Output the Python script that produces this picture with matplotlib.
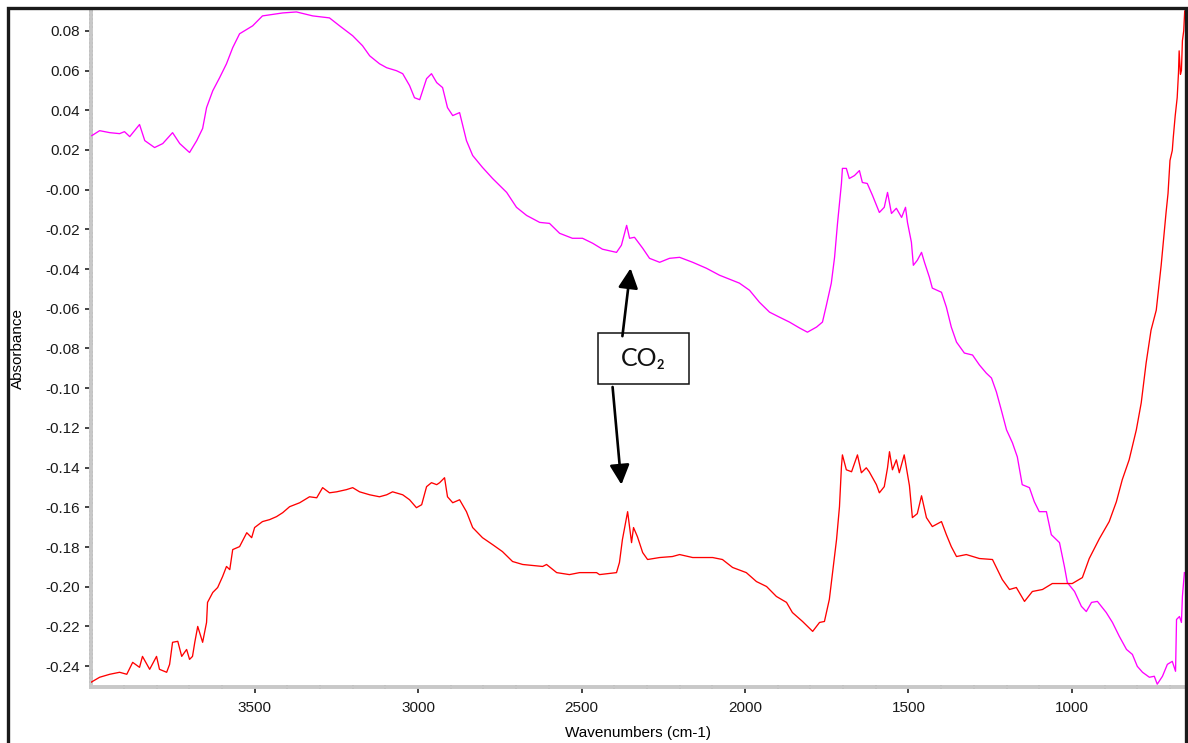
import matplotlib
matplotlib.use("Agg")
import matplotlib.pyplot as plt
from matplotlib.patches import Rectangle
from matplotlib.ticker import MultipleLocator, FixedLocator, FixedFormatter

# ---------------- data ----------------
magenta_wn = [3998, 3974, 3943, 3913, 3898, 3882, 3852, 3836, 3806, 3781, 3751, 3729, 3699, 3677,
              3659, 3647, 3628, 3607, 3586, 3567, 3546, 3506, 3476, 3414, 3372, 3322, 3271, 3240,
              3200, 3170, 3148, 3118, 3096, 3066, 3047, 3026, 3011, 2995, 2974, 2959, 2943, 2925,
              2910, 2894, 2873, 2852, 2833, 2803, 2772, 2729, 2699, 2668, 2628, 2598, 2567, 2528,
              2497, 2466, 2436, 2393, 2378, 2362, 2353, 2338, 2313, 2292, 2261, 2231, 2200, 2160,
              2118, 2078, 2017, 1986, 1956, 1925, 1895, 1864, 1833, 1809, 1781, 1763, 1751, 1736,
              1726, 1717, 1705, 1702, 1690, 1681, 1665, 1650, 1641, 1626, 1610, 1589, 1574, 1564,
              1552, 1537, 1521, 1509, 1503, 1491, 1485, 1473, 1460, 1451, 1436, 1427, 1399, 1384,
              1369, 1353, 1329, 1304, 1283, 1262, 1246, 1231, 1216, 1200, 1182, 1167, 1152, 1130,
              1115, 1100, 1078, 1063, 1038, 1023, 1014, 992, 971, 956, 940, 922, 895, 876, 855,
              833, 815, 800, 784, 763, 748, 739, 723, 708, 693, 683, 680, 671, 665, 662, 656]
magenta_abs = [0.0272, 0.0297, 0.0287, 0.0282, 0.0292, 0.0267, 0.0328, 0.0247, 0.0212, 0.0232,
               0.0287, 0.0232, 0.0187, 0.0247, 0.0308, 0.0413, 0.0498, 0.0564, 0.0634, 0.0715,
               0.0785, 0.0825, 0.0875, 0.0890, 0.0895, 0.0875, 0.0865, 0.0825, 0.0775, 0.0725,
               0.0674, 0.0634, 0.0614, 0.0599, 0.0584, 0.0524, 0.0463, 0.0453, 0.0559, 0.0584,
               0.0539, 0.0514, 0.0413, 0.0373, 0.0388, 0.0247, 0.0172, 0.0112, 0.0056, -0.0014,
               -0.0089, -0.0130, -0.0165, -0.0170, -0.0220, -0.0245, -0.0245, -0.0270, -0.0300,
               -0.0316, -0.0280, -0.0180, -0.0245, -0.0240, -0.0295, -0.0346, -0.0366, -0.0346,
               -0.0341, -0.0366, -0.0396, -0.0431, -0.0471, -0.0507, -0.0567, -0.0617, -0.0642,
               -0.0667, -0.0697, -0.0718, -0.0692, -0.0667, -0.0582, -0.0471, -0.0341, -0.0170,
               0.0031, 0.0107, 0.0107, 0.0056, 0.0071, 0.0096, 0.0036, 0.0031, -0.0029, -0.0115,
               -0.0089, -0.0014, -0.0120, -0.0094, -0.0140, -0.0089, -0.0165, -0.0265, -0.0381,
               -0.0356, -0.0316, -0.0366, -0.0441, -0.0496, -0.0517, -0.0592, -0.0692, -0.0768,
               -0.0823, -0.0833, -0.0883, -0.0924, -0.0949, -0.1019, -0.1110, -0.1210, -0.1275,
               -0.1346, -0.1486, -0.1501, -0.1572, -0.1622, -0.1622, -0.1738, -0.1778, -0.1898,
               -0.1979, -0.2024, -0.2099, -0.2125, -0.2079, -0.2074, -0.2130, -0.2180, -0.2250,
               -0.2316, -0.2341, -0.2401, -0.2431, -0.2456, -0.2451, -0.2491, -0.2451, -0.2391,
               -0.2376, -0.2426, -0.2165, -0.2150, -0.2180, -0.2049, -0.1929]

red_wn = [4000, 3974, 3943, 3913, 3891, 3873, 3852, 3843, 3821, 3800, 3791, 3769, 3760, 3751,
          3735, 3723, 3708, 3699, 3690, 3683, 3674, 3659, 3647, 3644, 3628, 3613, 3598, 3586,
          3576, 3567, 3546, 3524, 3509, 3500, 3476, 3454, 3433, 3414, 3393, 3362, 3332, 3310,
          3292, 3271, 3249, 3219, 3200, 3179, 3148, 3118, 3096, 3078, 3047, 3026, 3005, 2989,
          2974, 2959, 2943, 2934, 2919, 2910, 2894, 2873, 2852, 2833, 2803, 2772, 2742, 2711,
          2680, 2650, 2619, 2607, 2576, 2537, 2506, 2454, 2445, 2393, 2384, 2375, 2359, 2347,
          2341, 2329, 2313, 2298, 2261, 2222, 2200, 2160, 2099, 2069, 2038, 1996, 1965, 1934,
          1904, 1873, 1855, 1824, 1793, 1772, 1757, 1742, 1732, 1720, 1711, 1705, 1702, 1690,
          1674, 1656, 1644, 1629, 1620, 1598, 1589, 1574, 1564, 1558, 1549, 1537, 1528, 1513,
          1497, 1488, 1473, 1460, 1445, 1427, 1399, 1384, 1369, 1353, 1323, 1283, 1243, 1213,
          1191, 1170, 1145, 1121, 1090, 1060, 1029, 999, 968, 947, 916, 886, 864, 846, 825,
          803, 788, 773, 758, 742, 727, 712, 706, 700, 693, 690, 684, 678, 674, 672, 668,
          665, 662, 658, 655]
red_abs = [-0.2481, -0.2456, -0.2441, -0.2431, -0.2441, -0.2381, -0.2406, -0.2351, -0.2416,
           -0.2351, -0.2416, -0.2431, -0.2391, -0.2280, -0.2275, -0.2351, -0.2316, -0.2366,
           -0.2351, -0.2280, -0.2200, -0.2280, -0.2180, -0.2079, -0.2029, -0.2004, -0.1949,
           -0.1898, -0.1914, -0.1813, -0.1798, -0.1728, -0.1753, -0.1702, -0.1672, -0.1662,
           -0.1647, -0.1627, -0.1597, -0.1577, -0.1547, -0.1552, -0.1501, -0.1527, -0.1522,
           -0.1511, -0.1501, -0.1522, -0.1537, -0.1547, -0.1537, -0.1522, -0.1537, -0.1562,
           -0.1602, -0.1587, -0.1496, -0.1476, -0.1486, -0.1476, -0.1451, -0.1547, -0.1577,
           -0.1562, -0.1622, -0.1702, -0.1753, -0.1788, -0.1823, -0.1873, -0.1888, -0.1893,
           -0.1898, -0.1888, -0.1929, -0.1939, -0.1929, -0.1929, -0.1939, -0.1929, -0.1878,
           -0.1763, -0.1622, -0.1778, -0.1702, -0.1748, -0.1828, -0.1863, -0.1853, -0.1848,
           -0.1838, -0.1853, -0.1853, -0.1863, -0.1903, -0.1929, -0.1974, -0.1999, -0.2049,
           -0.2079, -0.2130, -0.2175, -0.2225, -0.2180, -0.2175, -0.2064, -0.1929, -0.1763,
           -0.1597, -0.1396, -0.1336, -0.1411, -0.1421, -0.1336, -0.1426, -0.1401, -0.1421,
           -0.1486, -0.1527, -0.1496, -0.1401, -0.1320, -0.1411, -0.1361, -0.1426, -0.1336,
           -0.1491, -0.1652, -0.1632, -0.1542, -0.1652, -0.1697, -0.1672, -0.1738, -0.1798,
           -0.1848, -0.1838, -0.1858, -0.1863, -0.1964, -0.2014, -0.2004, -0.2074, -0.2024,
           -0.2014, -0.1984, -0.1984, -0.1984, -0.1954, -0.1858, -0.1758, -0.1672, -0.1572,
           -0.1461, -0.1361, -0.1210, -0.1074, -0.0873, -0.0708, -0.0607, -0.0381, -0.0115,
           -0.0019, 0.0147, 0.0197, 0.0262, 0.0373, 0.0463, 0.0589, 0.0699, 0.0581, 0.0600,
           0.0750, 0.0800, 0.0900]

x_major_ticks = [3500, 3000, 2500, 2000, 1500, 1000]
y_major_ticks = [0.08, 0.06, 0.04, 0.02, 0.00, -0.02, -0.04, -0.06, -0.08, -0.10, -0.12,
                 -0.14, -0.16, -0.18, -0.20, -0.22, -0.24]
y_tick_labels = ["0.08", "0.06", "0.04", "0.02", "-0.00", "-0.02", "-0.04", "-0.06", "-0.08",
                 "-0.10", "-0.12", "-0.14", "-0.16", "-0.18", "-0.20", "-0.22", "-0.24"]
annotation_text = "CO\u2082"
x_label = "Wavenumbers (cm-1)"
y_label = "Absorbance"

# ---------------- figure ----------------
plt.rcParams['font.family'] = ['Liberation Sans', 'DejaVu Sans']
fig = plt.figure(figsize=(11.88, 7.43), dpi=100)
fig.patch.set_facecolor('white')
ax = fig.add_axes([0.0770, 0.0754, 0.9205, 0.9112])

ax.plot(magenta_wn, magenta_abs, color='#ff00ff', lw=0.95, zorder=3)
ax.plot(red_wn, red_abs, color='#ff0000', lw=0.95, zorder=3)

ax.set_xlim(3999, 654)
ax.set_ylim(-0.2505, 0.0905)

ax.xaxis.set_major_locator(FixedLocator(x_major_ticks))
ax.xaxis.set_minor_locator(MultipleLocator(100))
ax.yaxis.set_major_locator(FixedLocator(y_major_ticks))
ax.yaxis.set_major_formatter(FixedFormatter(y_tick_labels))
ax.yaxis.set_minor_locator(MultipleLocator(0.002))

for side in ['top', 'right']:
    ax.spines[side].set_visible(False)
for side in ['left', 'bottom']:
    ax.spines[side].set_color('#c8c8c8')
    ax.spines[side].set_linewidth(2.8)

ax.tick_params(axis='both', which='major', direction='out', length=4, width=1.2,
               color='#222222', labelsize=11, labelcolor='#1a1a1a', pad=4)
ax.tick_params(axis='both', which='minor', direction='inout', length=2.2, width=1.2,
               color='#333333')
ax.tick_params(axis='x', which='major', pad=6)

ax.set_xlabel(x_label, fontsize=11, labelpad=8)
ax.set_ylabel(y_label, fontsize=11, labelpad=10)
ax.yaxis.set_label_coords(-0.0605, 0.5)

# CO2 annotation box and arrows
ax.add_patch(Rectangle((2170, -0.0979), 281, 0.0256, facecolor='white', edgecolor='#111111',
                       lw=1.1, zorder=5))
ax.text(2310, -0.0852, annotation_text, ha='center', va='center', fontsize=18,
        family=['Lato', 'DejaVu Sans'], color='#111111', zorder=6)
arrow_style = dict(arrowstyle='-|>,head_length=0.6,head_width=0.3', mutation_scale=20,
                   lw=1.9, color='black', shrinkA=0, shrinkB=0)
ax.annotate('', xy=(2350, -0.0396), xytext=(2375, -0.0738), arrowprops=arrow_style, zorder=6)
ax.annotate('', xy=(2378, -0.1486), xytext=(2405, -0.0994), arrowprops=arrow_style, zorder=6)

# outer black frame of the picture
fig.patches.append(Rectangle((8 / 1188, -0.02), 1178 / 1188, 1.02 - 8.5 / 743,
                             transform=fig.transFigure, fill=False, lw=2.4,
                             edgecolor='#1a1a1a', zorder=10))

fig.savefig('out.png', dpi=100)
